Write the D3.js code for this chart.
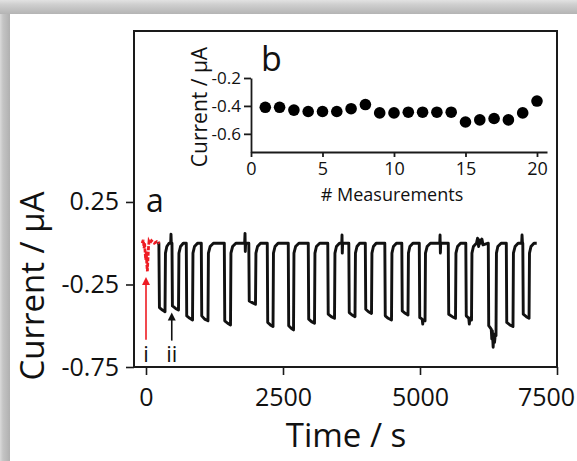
<!DOCTYPE html>
<html><head><meta charset="utf-8">
<script src="https://cdn.jsdelivr.net/npm/d3@7"></script>
<style>body{margin:0;background:#fff}svg{display:block}text{font-family:"Open Sans",sans-serif;fill:#111}</style>
</head><body>
<svg id="c" width="577" height="461"></svg>
<script>
// ---- data ----
const mainXTicks = [0, 2500, 5000, 7500];
const mainYTicks = [0.25, -0.25, -0.75];
const insetXTicks = [0, 5, 10, 15, 20];
const insetYTicks = [-0.2, -0.4, -0.6];
const measurements = [1,2,3,4,5,6,7,8,9,10,11,12,13,14,15,16,17,18,19,20];
const measuredCurrent = [-0.41,-0.41,-0.43,-0.44,-0.44,-0.44,-0.42,-0.39,-0.45,-0.45,-0.445,-0.445,-0.445,-0.445,-0.515,-0.50,-0.49,-0.50,-0.45,-0.365];
// red trace (i)
const redTime = [-70,-50,-35,-25,-15,-5,5,15,25,35,45,55,70,100,150,200,250];
const redCurrent = [0.0,0.02,-0.03,0.0,-0.06,-0.1,-0.05,-0.13,-0.17,-0.1,-0.03,0.01,0.0,0.015,0.0,0.01,0.0];
// black trace (ii)
const traceTime = [205,235,245,300,347,355,380,420,450,456,462,
474,482,540,593,601,630,680,735,
743,800,849,857,885,940,1009,
1017,1070,1131,1139,1170,1230,1429,
1437,1490,1542,1550,1580,1640,1800,1807,1812,1818,1876,
1884,1940,1998,2006,2035,2090,2213,
2221,2270,2318,2326,2355,2410,2596,
2604,2650,2692,2700,2730,2790,2961,
2969,3020,3075,3083,3110,3170,3317,
3325,3380,3440,3448,3475,3530,3572,3577,3582,3588,3701,
3709,3760,3814,3822,3850,3900,4002,
4010,4060,4115,4123,4150,4200,4358,
4366,4420,4480,4488,4515,4570,4668,
4676,4730,4781,4789,4815,4870,4987,
4995,5040,5050,5058,5092,5100,5130,5190,5360,5366,5372,5378,5516,
5524,5590,5648,5656,5685,5740,5836,
5844,5890,5900,5910,5940,5948,5975,6030,6050,6070,6090,6110,6130,6150,6246,
6254,6300,6310,6320,6335,6345,6360,6375,6387,6395,6420,6480,6575,
6583,6640,6697,6705,6735,6790,6855,6862,6870,6876,
6884,6940,6990,6998,7025,7080,7130];
const traceCurrent = [0.0,0.0,-0.39,-0.405,-0.415,-0.06,-0.02,0.0,0.0,0.055,0.0,
0.0,-0.38,-0.395,-0.405,-0.06,-0.02,0.0,0.0,
-0.44,-0.455,-0.465,-0.06,-0.02,0.0,0.0,
-0.44,-0.46,-0.47,-0.06,-0.02,0.0,0.0,
-0.47,-0.485,-0.495,-0.06,-0.02,0.0,0.0,0.06,-0.05,0.0,0.0,
-0.35,-0.36,-0.37,-0.06,-0.02,0.0,0.0,
-0.48,-0.495,-0.505,-0.06,-0.02,0.0,0.0,
-0.5,-0.515,-0.525,-0.06,-0.02,0.0,0.0,
-0.46,-0.475,-0.485,-0.06,-0.02,0.0,0.0,
-0.43,-0.445,-0.455,-0.06,-0.02,0.0,0.0,0.05,-0.06,0.0,0.0,
-0.42,-0.435,-0.445,-0.06,-0.02,0.0,0.0,
-0.4,-0.415,-0.425,-0.06,-0.02,0.0,0.0,
-0.44,-0.455,-0.465,-0.06,-0.02,0.0,0.0,
-0.41,-0.425,-0.435,-0.06,-0.02,0.0,0.0,
-0.45,-0.46,-0.49,-0.465,-0.47,-0.06,-0.02,0.0,0.0,0.05,-0.06,0.0,0.0,
-0.43,-0.445,-0.455,-0.06,-0.02,0.0,0.0,
-0.44,-0.455,-0.49,-0.455,-0.465,-0.06,-0.02,0.0,0.03,-0.02,0.02,0.0,0.025,-0.01,0.0,
-0.5,-0.52,-0.58,-0.53,-0.63,-0.55,-0.6,-0.55,-0.56,-0.06,-0.02,0.0,0.0,
-0.48,-0.495,-0.505,-0.06,-0.02,0.0,0.0,0.05,0.0,0.0,
-0.43,-0.445,-0.455,-0.06,-0.02,0.0,0.0];

// ---- drawing ----
const svg = d3.select("#c");
const defs = svg.append("defs");
const gT = defs.append("linearGradient").attr("id","gT").attr("x1",0).attr("y1",0).attr("x2",0).attr("y2",1);
gT.append("stop").attr("offset","0%").attr("stop-color","#e2e2e2");
gT.append("stop").attr("offset","30%").attr("stop-color","#d0d0d0");
gT.append("stop").attr("offset","100%").attr("stop-color","#b4b4b4");
const gL = defs.append("linearGradient").attr("id","gL").attr("x1",0).attr("y1",0).attr("x2",1).attr("y2",0);
gL.append("stop").attr("offset","0%").attr("stop-color","#dadada");
gL.append("stop").attr("offset","30%").attr("stop-color","#c4c4c4");
gL.append("stop").attr("offset","100%").attr("stop-color","#b0b0b0");
svg.append("rect").attr("x",0).attr("y",0).attr("width",10).attr("height",461).attr("fill","url(#gL)");
svg.append("rect").attr("x",0).attr("y",0).attr("width",577).attr("height",14).attr("fill","url(#gT)");

const x = d3.scaleLinear().domain([-219, 7500]).range([134, 557]);
const y = d3.scaleLinear().domain([-0.75, 1.286]).range([367, 31]);

// frame
svg.append("rect").attr("x",134).attr("y",31).attr("width",423).attr("height",336)
  .attr("fill","none").attr("stroke","#1a1a1a").attr("stroke-width",2);

const ax = svg.append("g").attr("transform","translate(0,367)")
  .call(d3.axisBottom(x).tickValues(mainXTicks).tickSize(8).tickPadding(13).tickFormat(d3.format("d")));
ax.select(".domain").remove();
ax.selectAll("line").attr("stroke","#1a1a1a").attr("stroke-width",1.6);
ax.selectAll("text").style("font-size","25px").attr("fill","#111")
  .attr("dx", d => d === 7500 ? -11 : 0);

const ay = svg.append("g").attr("transform","translate(134,0)")
  .call(d3.axisLeft(y).tickValues(mainYTicks).tickSize(8).tickPadding(7).tickFormat(d3.format(".2f")));
ay.select(".domain").remove();
ay.selectAll("line").attr("stroke","#1a1a1a").attr("stroke-width",1.6);
ay.selectAll("text").style("font-size","25px").attr("fill","#111");

svg.append("text").attr("transform","translate(44,286) rotate(-90)").attr("text-anchor","middle")
  .style("font-size","33px").text("Current / μA");
svg.append("text").attr("x",346).attr("y",447).attr("text-anchor","middle")
  .style("font-size","33px").text("Time / s");
svg.append("text").attr("x",146).attr("y",212).style("font-size","32px").text("a");

// traces
const line = d3.line().x(d => x(d[0])).y(d => y(d[1]));
svg.append("path").datum(traceTime.map((t,i)=>[t,traceCurrent[i]]))
  .attr("d",line).attr("fill","none").attr("stroke","#111").attr("stroke-width",2.9)
  .attr("stroke-linejoin","round");
svg.append("path").datum(redTime.map((t,i)=>[t,redCurrent[i]]))
  .attr("d",line).attr("fill","none").attr("stroke","#ee1c24").attr("stroke-width",2.8)
  .attr("stroke-dasharray","4,1.5");

// arrows
function arrow(t, v0, v1, col){
  const xx = x(t), y0 = y(v0), y1 = y(v1);
  svg.append("line").attr("x1",xx).attr("x2",xx).attr("y1",y0).attr("y2",y1+6)
    .attr("stroke",col).attr("stroke-width",1.6);
  svg.append("path").attr("d",`M${xx-4},${y1+8} L${xx},${y1} L${xx+4},${y1+8} Z`).attr("fill",col);
}
arrow(0, -0.585, -0.205, "#ee1c24");
arrow(470, -0.59, -0.42, "#111");
svg.append("text").attr("x",x(0)).attr("y",y(-0.72)).attr("text-anchor","middle").style("font-size","22px").text("i");
svg.append("text").attr("x",x(470)).attr("y",y(-0.72)).attr("text-anchor","middle").style("font-size","22px").text("ii");

// inset
const xi = d3.scaleLinear().domain([0, 20.7]).range([251, 547]);
const yi = d3.scaleLinear().domain([-0.73, -0.2]).range([152, 78]);
const ixa = svg.append("g").attr("transform","translate(0,152)")
  .call(d3.axisBottom(xi).tickValues(insetXTicks).tickSize(5).tickPadding(5).tickSizeOuter(0));
ixa.selectAll("path,line").attr("stroke","#1a1a1a").attr("stroke-width",1.8);
ixa.selectAll("text").style("font-size","18px").attr("fill","#111");
const iya = svg.append("g").attr("transform","translate(251,0)")
  .call(d3.axisLeft(yi).tickValues(insetYTicks).tickSize(7).tickPadding(3).tickSizeOuter(0).tickFormat(d3.format(".1f")));
iya.selectAll("path,line").attr("stroke","#1a1a1a").attr("stroke-width",1.8);
iya.selectAll("text").style("font-size","17px").attr("fill","#111");
svg.selectAll(".tick text").text(function(){return this.textContent.replace("−","-");});

svg.append("g").selectAll("circle").data(measurements).join("circle")
  .attr("cx",(d)=>xi(d)).attr("cy",(d,i)=>yi(measuredCurrent[i])).attr("r",5.8).attr("fill","#000");

svg.append("text").attr("transform","translate(207,107) rotate(-90)").attr("text-anchor","middle")
  .style("font-size","21px").text("Current / μA");
svg.append("text").attr("x",392).attr("y",201).attr("text-anchor","middle")
  .style("font-size","18px").text("# Measurements");
svg.append("text").attr("x",261).attr("y",71).style("font-size","34px").text("b");
</script>
</body></html>
